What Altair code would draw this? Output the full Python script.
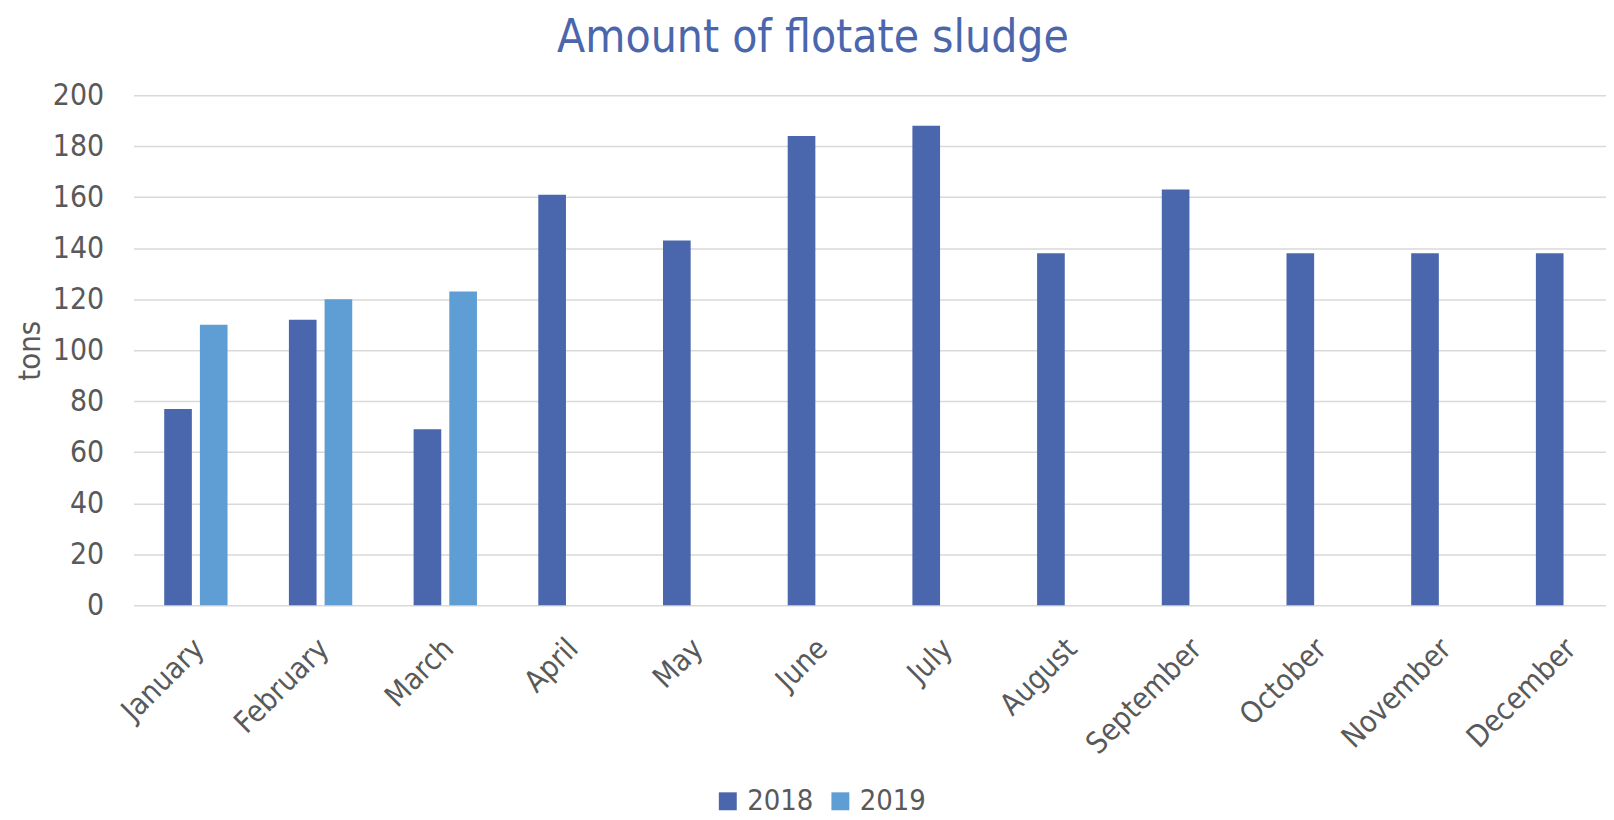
import altair as alt
import pandas as pd

months = ["January", "February", "March", "April", "May", "June", "July",
          "August", "September", "October", "November", "December"]
values_2018 = [77, 112, 69, 161, 143, 184, 188, 138, 163, 138, 138, 138]
values_2019 = [110, 120, 123]
years = ["2018", "2019"]
colors = ["#4A66AC", "#5F9ED4"]

rows = []
for m, v in zip(months, values_2018):
    rows.append({"month": m, "year": "2018", "tons": v})
for m, v in zip(months, values_2019):
    rows.append({"month": m, "year": "2019", "tons": v})
df = pd.DataFrame(rows)

FONT = "DejaVu Sans Condensed, DejaVu Sans, sans-serif"
GRAY = "#595959"

chart = alt.Chart(df).mark_bar().encode(
    x=alt.X("month:N", sort=months,
            scale=alt.Scale(paddingInner=0.492, paddingOuter=0.246, range=[0, 1502]),
            axis=alt.Axis(title=None, labelAngle=-45, labelFontSize=30, labelColor=GRAY,
                          labelFont=FONT, ticks=False, domain=False, labelPadding=28,
                          labelOffset=-7)),
    xOffset=alt.XOffset("year:N", scale=alt.Scale(domain=years, paddingInner=0.225, paddingOuter=0)),
    y=alt.Y("tons:Q", scale=alt.Scale(domain=[0, 200]),
            axis=alt.Axis(title="tons", values=list(range(0, 201, 20)), labelFontSize=30,
                          labelColor=GRAY, labelFont=FONT, titleFont=FONT, titleFontSize=31,
                          titleColor=GRAY, titleFontWeight="normal", titlePadding=6,
                          labelPadding=30, ticks=False, domain=False,
                          gridColor="#D9D9D9", gridWidth=1.5)),
    color=alt.Color("year:N", scale=alt.Scale(domain=years, range=colors),
                    legend=alt.Legend(title=None, orient="none", direction="horizontal",
                                      legendX=582, legendY=694, symbolType="square",
                                      symbolSize=324, symbolStrokeWidth=0, labelFontSize=29,
                                      labelFont=FONT, labelColor=GRAY, labelOffset=5,
                                      columnPadding=12, padding=0)),
).properties(
    width=1478,
    height=512,
    title=alt.TitleParams("Amount of flotate sludge", font=FONT, fontSize=46,
                          fontWeight="normal", color="#4A66AC", anchor="middle",
                          dx=-57, offset=18),
    padding={"left": 126, "top": 86, "right": 0, "bottom": 210},
    autosize=alt.AutoSizeParams(type="none"),
).configure_view(stroke=None)

chart.save("out.html", embed_options={"renderer": "svg", "actions": False})
